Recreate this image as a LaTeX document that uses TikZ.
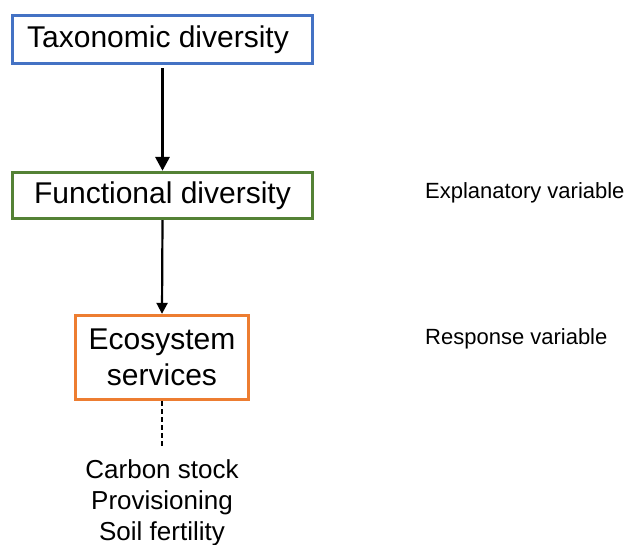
\documentclass[tikz,border=0pt]{standalone}
\usepackage{fontspec}
\setmainfont{Liberation Sans}
\usetikzlibrary{arrows.meta}
\definecolor{boxblue}{HTML}{4472C4}
\definecolor{boxgreen}{HTML}{548235}
\definecolor{boxorange}{HTML}{ED7D31}
\begin{document}
\begin{tikzpicture}[x=1pt,y=-1pt,
  mainbox/.style={draw, line width=2.8pt, fill=white, inner sep=0pt, align=center,
    font=\fontsize{30}{36}\selectfont},
  labeltext/.style={anchor=west, inner sep=0pt, font=\fontsize{22}{26}\selectfont}]
\useasboundingbox[fill=white] (0,0) rectangle (630,545);
\node[mainbox, draw=boxblue, minimum width=300pt, minimum height=48.5pt] (tax) at (162.5,39.5) {Taxonomic diversity\hspace*{9pt}};
\node[mainbox, draw=boxgreen, minimum width=300pt, minimum height=46.5pt] (fun) at (162.5,195.5) {Functional diversity};
\node[mainbox, draw=boxorange, minimum width=173.5pt, minimum height=84.5pt] (eco) at (162,357.5) {Ecosystem\\services};
\coordinate (dashend) at (162,448);
\node[inner sep=0pt, align=center, font=\fontsize{26}{31}\selectfont] (items) at (162,503) {Carbon stock\\Provisioning\\Soil fertility};
\node[labeltext] (expl) at (425,193) {Explanatory variable};
\node[labeltext] (resp) at (425,339) {Response variable};
\draw[line width=3.2pt, -{Triangle[length=14pt,width=14pt]}, shorten <=3pt] (tax.south) -- (fun.north);
\draw[line width=2.2pt, -{Triangle[length=11pt,width=11pt]}] (fun.south) -- (eco.north);
\draw[line width=1.5pt, dash pattern=on 5pt off 3pt] (eco.south) -- (dashend);
\end{tikzpicture}
\end{document}
